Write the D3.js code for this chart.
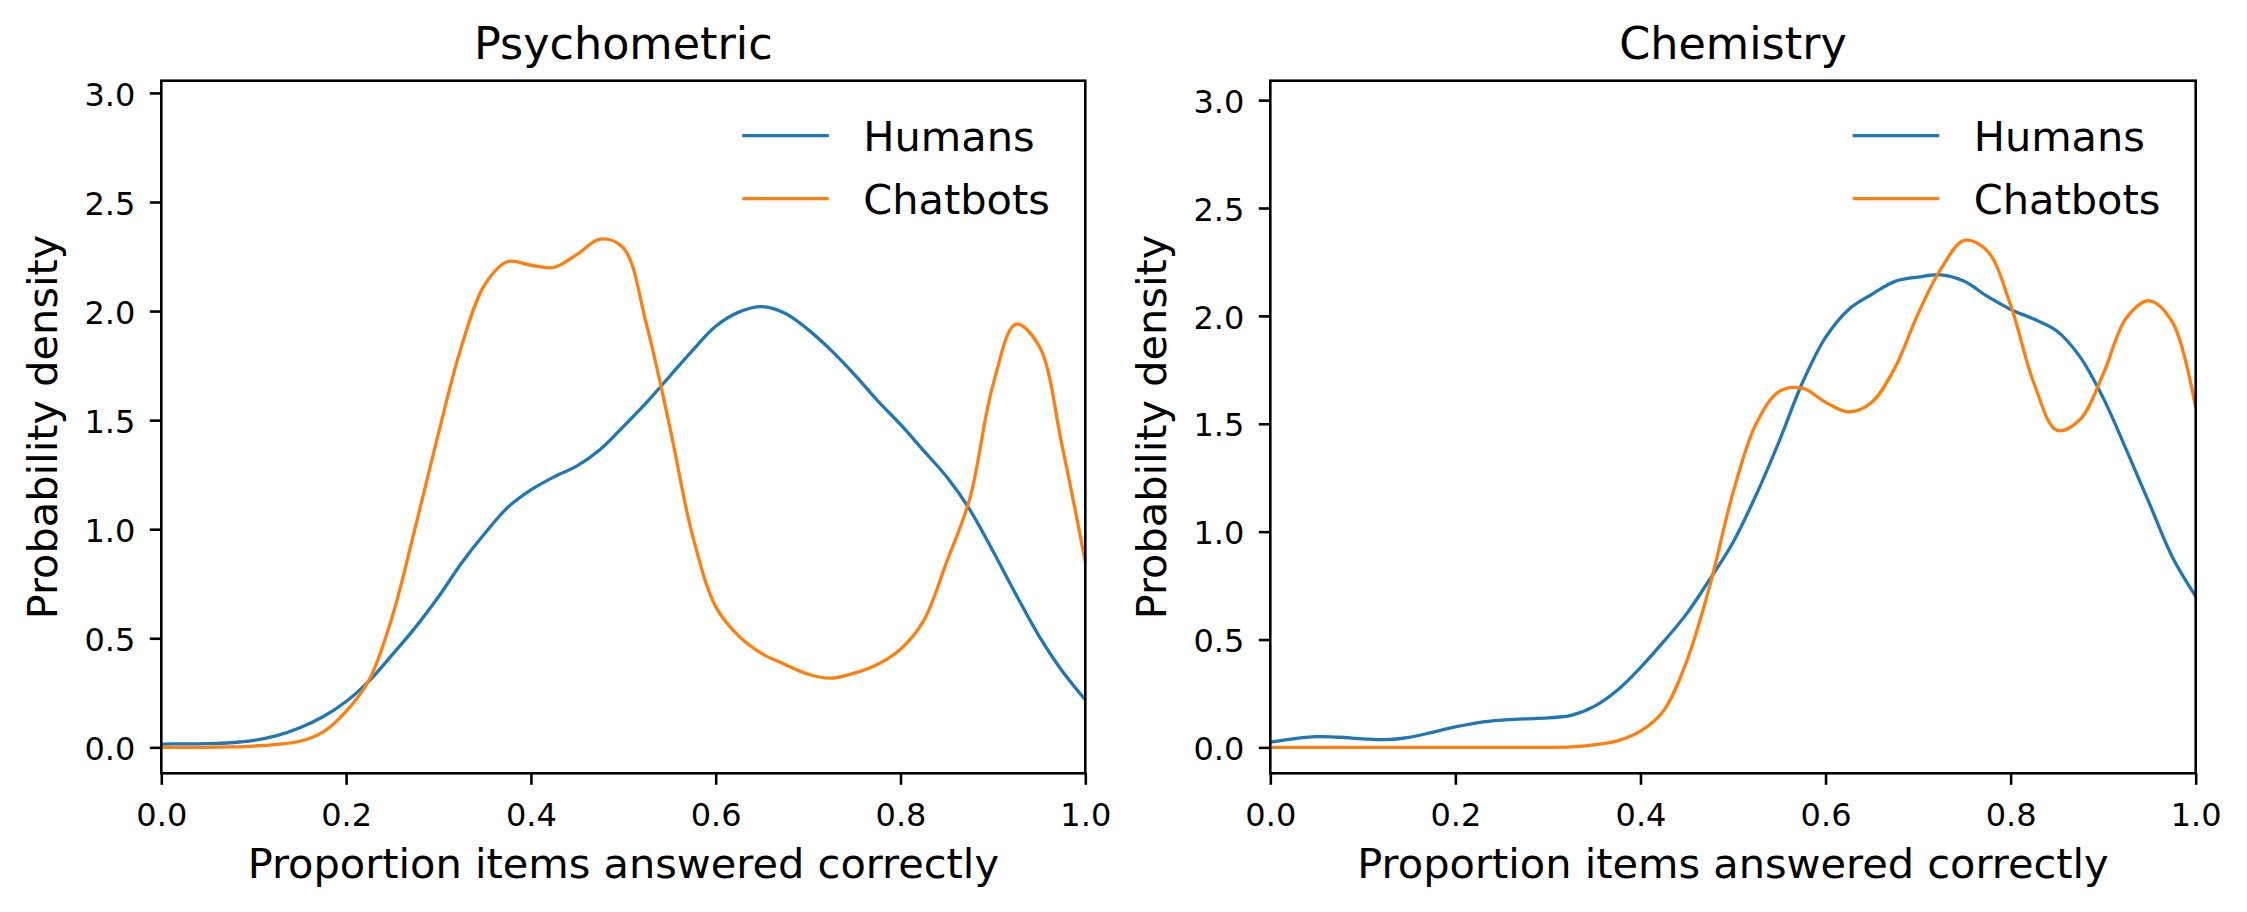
<!DOCTYPE html>
<html>
<head>
<meta charset="utf-8">
<script src="https://cdn.jsdelivr.net/npm/d3@7"></script>
<style>
  body { margin: 0; background: #fff; }
  svg text { font-family: "DejaVu Sans", sans-serif; fill: #000; }
</style>
</head>
<body>
<svg id="chart" width="2247" height="912"></svg>
<script>
// grid of x positions the densities were read at
const xGrid = [0, 0.025, 0.05, 0.075, 0.1, 0.125, 0.15, 0.175, 0.2, 0.225, 0.25, 0.275, 0.3, 0.325,
  0.35, 0.375, 0.4, 0.425, 0.45, 0.475, 0.5, 0.525, 0.55, 0.575, 0.6, 0.625, 0.65, 0.675,
  0.7, 0.725, 0.75, 0.775, 0.8, 0.825, 0.85, 0.875, 0.9, 0.925, 0.95, 0.975, 1];

const psychHumans = [0.015, 0.016, 0.017, 0.021, 0.032, 0.054, 0.09, 0.14, 0.21, 0.305, 0.425, 0.55, 0.69, 0.845,
  0.98, 1.10, 1.18, 1.24, 1.29, 1.365, 1.47, 1.58, 1.70, 1.82, 1.93, 1.995, 2.02, 1.99,
  1.915, 1.82, 1.71, 1.59, 1.48, 1.36, 1.24, 1.09, 0.90, 0.70, 0.51, 0.35, 0.218];
const psychChatbots = [0, 0, 0, 0.002, 0.006, 0.014, 0.028, 0.07, 0.165, 0.31, 0.60, 1.01, 1.44, 1.84,
  2.12, 2.227, 2.21, 2.20, 2.26, 2.33, 2.29, 1.94, 1.475, 0.97, 0.645, 0.51, 0.43, 0.38,
  0.335, 0.317, 0.34, 0.38, 0.45, 0.58, 0.85, 1.14, 1.66, 1.94, 1.84, 1.38, 0.85];

const chemHumans = [0.025, 0.04, 0.05, 0.047, 0.04, 0.036, 0.047, 0.07, 0.095, 0.115, 0.126, 0.132, 0.137, 0.148,
  0.19, 0.265, 0.37, 0.49, 0.62, 0.78, 0.95, 1.17, 1.42, 1.69, 1.90, 2.03, 2.10, 2.16,
  2.18, 2.19, 2.16, 2.09, 2.03, 1.985, 1.93, 1.81, 1.62, 1.38, 1.13, 0.88, 0.70];
const chemChatbots = [0, 0, 0, 0, 0, 0, 0, 0, 0, 0, 0, 0, 0, 0.002,
  0.012, 0.03, 0.075, 0.17, 0.40, 0.75, 1.18, 1.50, 1.65, 1.665, 1.60, 1.555, 1.60, 1.76,
  2.01, 2.22, 2.35, 2.30, 2.05, 1.69, 1.47, 1.52, 1.73, 1.99, 2.07, 1.97, 1.575];

const xTicks = [0, 0.2, 0.4, 0.6, 0.8, 1.0];
const yTicks = [0, 0.5, 1.0, 1.5, 2.0, 2.5, 3.0];
const seriesNames = ['Humans', 'Chatbots'];
const colors = ['#1f77b4', '#ff7f0e'];

const panels = [
  { title: 'Psychometric', series: [psychHumans, psychChatbots], yDomain: [-0.119, 3.056], left: 161.3, right: 1085.3 },
  { title: 'Chemistry', series: [chemHumans, chemChatbots], yDomain: [-0.12, 3.09], left: 1270.3, right: 2195.7 }
];

const plotTop = 80.7, plotBottom = 773.3;
const tickFont = 32, labelFont = 41.5, titleFont = 44.5;
const svg = d3.select('#chart');

panels.forEach(p => {
  const x = d3.scaleLinear().domain([0, 1]).range([p.left, p.right]);
  const y = d3.scaleLinear().domain(p.yDomain).range([plotBottom, plotTop]);

  // curves
  const line = d3.line()
    .x((d, i) => x(xGrid[i]))
    .y(d => y(d))
    .curve(d3.curveCatmullRom.alpha(0.5));

  p.series.forEach((vals, k) => {
    svg.append('path')
      .datum(vals)
      .attr('fill', 'none')
      .attr('stroke', colors[k])
      .attr('stroke-width', 3.3)
      .attr('stroke-linejoin', 'round')
      .attr('d', line);
  });

  // frame
  svg.append('rect')
    .attr('x', p.left).attr('y', plotTop)
    .attr('width', p.right - p.left).attr('height', plotBottom - plotTop)
    .attr('fill', 'none').attr('stroke', '#000').attr('stroke-width', 2.6);

  // axes
  const gx = svg.append('g')
    .attr('transform', `translate(0,${plotBottom})`)
    .call(d3.axisBottom(x).tickValues(xTicks).tickFormat(d3.format('.1f'))
      .tickSize(11.5).tickPadding(18).tickSizeOuter(0));
  const gy = svg.append('g')
    .attr('transform', `translate(${p.left},0)`)
    .call(d3.axisLeft(y).tickValues(yTicks).tickFormat(d3.format('.1f'))
      .tickSize(11.5).tickPadding(14.5).tickSizeOuter(0));

  [gx, gy].forEach(g => {
    g.select('.domain').remove();
    g.selectAll('.tick line').attr('stroke', '#000').attr('stroke-width', 2.6);
    g.selectAll('.tick text')
      .attr('font-family', '"DejaVu Sans", sans-serif')
      .style('font-size', tickFont + 'px')
      .attr('fill', '#000');
  });
  gy.selectAll('.tick text').attr('dy', '0.38em');

  const cx = (p.left + p.right) / 2;

  // title
  svg.append('text')
    .attr('x', cx).attr('y', 58.5)
    .attr('text-anchor', 'middle')
    .style('font-size', titleFont + 'px')
    .text(p.title);

  // x label
  svg.append('text')
    .attr('x', cx).attr('y', 878)
    .attr('text-anchor', 'middle')
    .style('font-size', labelFont + 'px')
    .text('Proportion items answered correctly');

  // y label
  svg.append('text')
    .attr('transform', `translate(${p.left - 104},${(plotTop + plotBottom) / 2}) rotate(-90)`)
    .attr('text-anchor', 'middle')
    .style('font-size', labelFont + 'px')
    .text('Probability density');

  // legend (no frame)
  seriesNames.forEach((name, k) => {
    const ly = plotTop + 55 + k * 63;
    svg.append('line')
      .attr('x1', p.right - 343).attr('x2', p.right - 256.5)
      .attr('y1', ly).attr('y2', ly)
      .attr('stroke', colors[k]).attr('stroke-width', 3.3);
    svg.append('text')
      .attr('x', p.right - 222).attr('y', ly + 15)
      .style('font-size', labelFont + 'px')
      .text(name);
  });
});
</script>
</body>
</html>
